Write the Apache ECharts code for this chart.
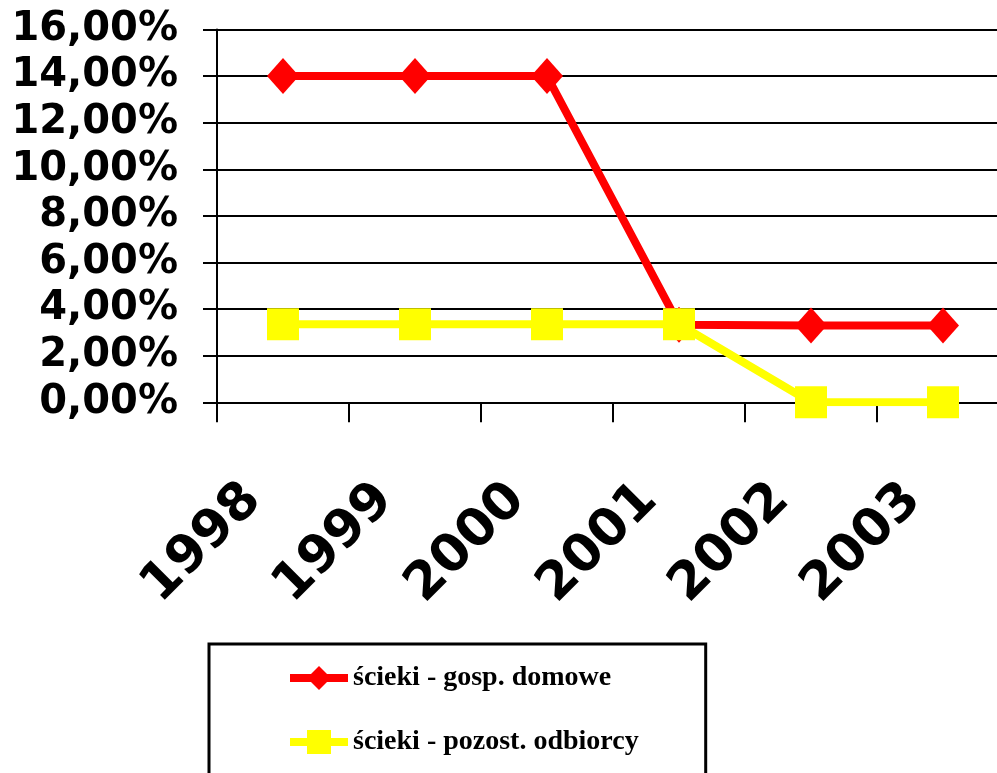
<!DOCTYPE html>
<html>
<head>
<meta charset="utf-8">
<script src="https://cdn.jsdelivr.net/npm/echarts@6/dist/echarts.min.js"></script>
<style>
  html, body { margin: 0; padding: 0; background: #fff; }
  #chart01 { width: 997px; height: 773px; }
</style>
</head>
<body>
<div id="chart01"></div>
<script>
// dane
var lata = ["1998", "1999", "2000", "2001", "2002", "2003"];
var gospDomowe = [14.0, 14.0, 14.0, 3.33, 3.3, 3.3];
var pozostOdbiorcy = [3.35, 3.35, 3.35, 3.35, 0.0, 0.0];
var nazwySerii = ["ścieki - gosp. domowe", "ścieki - pozost. odbiorcy"];

var myChart01 = echarts.init(document.getElementById('chart01'));
var option = {
    animation: false,
    backgroundColor: "#ffffff",
    grid: {
        left: 217,
        right: -12,
        top: 29.5,
        bottom: 370.7,
        containLabel: false,
        outerBoundsMode: "none"
    },
    legend: {
        orient: "vertical",
        left: 209,
        top: 644,
        height: 100,
        padding: [19, 67, 60, 77],
        borderColor: "#000",
        borderWidth: 3,
        itemWidth: 58,
        itemHeight: 30,
        itemGap: 34,
        lineStyle: { width: 8 },
        textStyle: {
            fontFamily: "Liberation Serif",
            fontWeight: "bold",
            fontSize: 28,
            lineHeight: 30,
            color: "#000"
        },
        data: nazwySerii
    },
    xAxis: {
        type: "category",
        data: lata,
        boundaryGap: true,
        axisLine: { show: true, lineStyle: { color: "#000", width: 2 } },
        axisTick: { show: true, length: 20, inside: false, lineStyle: { color: "#000", width: 2 } },
        axisLabel: {
            interval: 0,
            rotate: 45,
            margin: 60,
            padding: [0, 42, 0, 0],
            fontFamily: "DejaVu Sans",
            fontWeight: "bold",
            fontSize: 52,
            color: "#000"
        },
        splitLine: { show: false }
    },
    yAxis: {
        type: "value",
        min: 0,
        max: 16,
        interval: 2,
        axisLine: { show: true, lineStyle: { color: "#000", width: 2 } },
        axisTick: { show: true, length: 14, lineStyle: { color: "#000", width: 2 } },
        axisLabel: {
            margin: 39,
            fontFamily: "DejaVu Sans",
            fontWeight: "bold",
            fontSize: 40,
            color: "#000",
            formatter: function (v) { return v.toFixed(2).replace(".", ",") + "%"; }
        },
        splitLine: { show: true, lineStyle: { color: "#000", width: 2 } }
    },
    series: [
        {
            name: nazwySerii[0],
            type: "line",
            data: gospDomowe,
            symbol: "diamond",
            symbolSize: [32, 36],
            itemStyle: { color: "#ff0000" },
            lineStyle: { color: "#ff0000", width: 8 },
            z: 2
        },
        {
            name: nazwySerii[1],
            type: "line",
            data: pozostOdbiorcy,
            symbol: "rect",
            symbolSize: 32,
            itemStyle: { color: "#ffff00" },
            lineStyle: { color: "#ffff00", width: 8 },
            z: 3
        }
    ]
};
myChart01.setOption(option);
</script>
</body>
</html>
